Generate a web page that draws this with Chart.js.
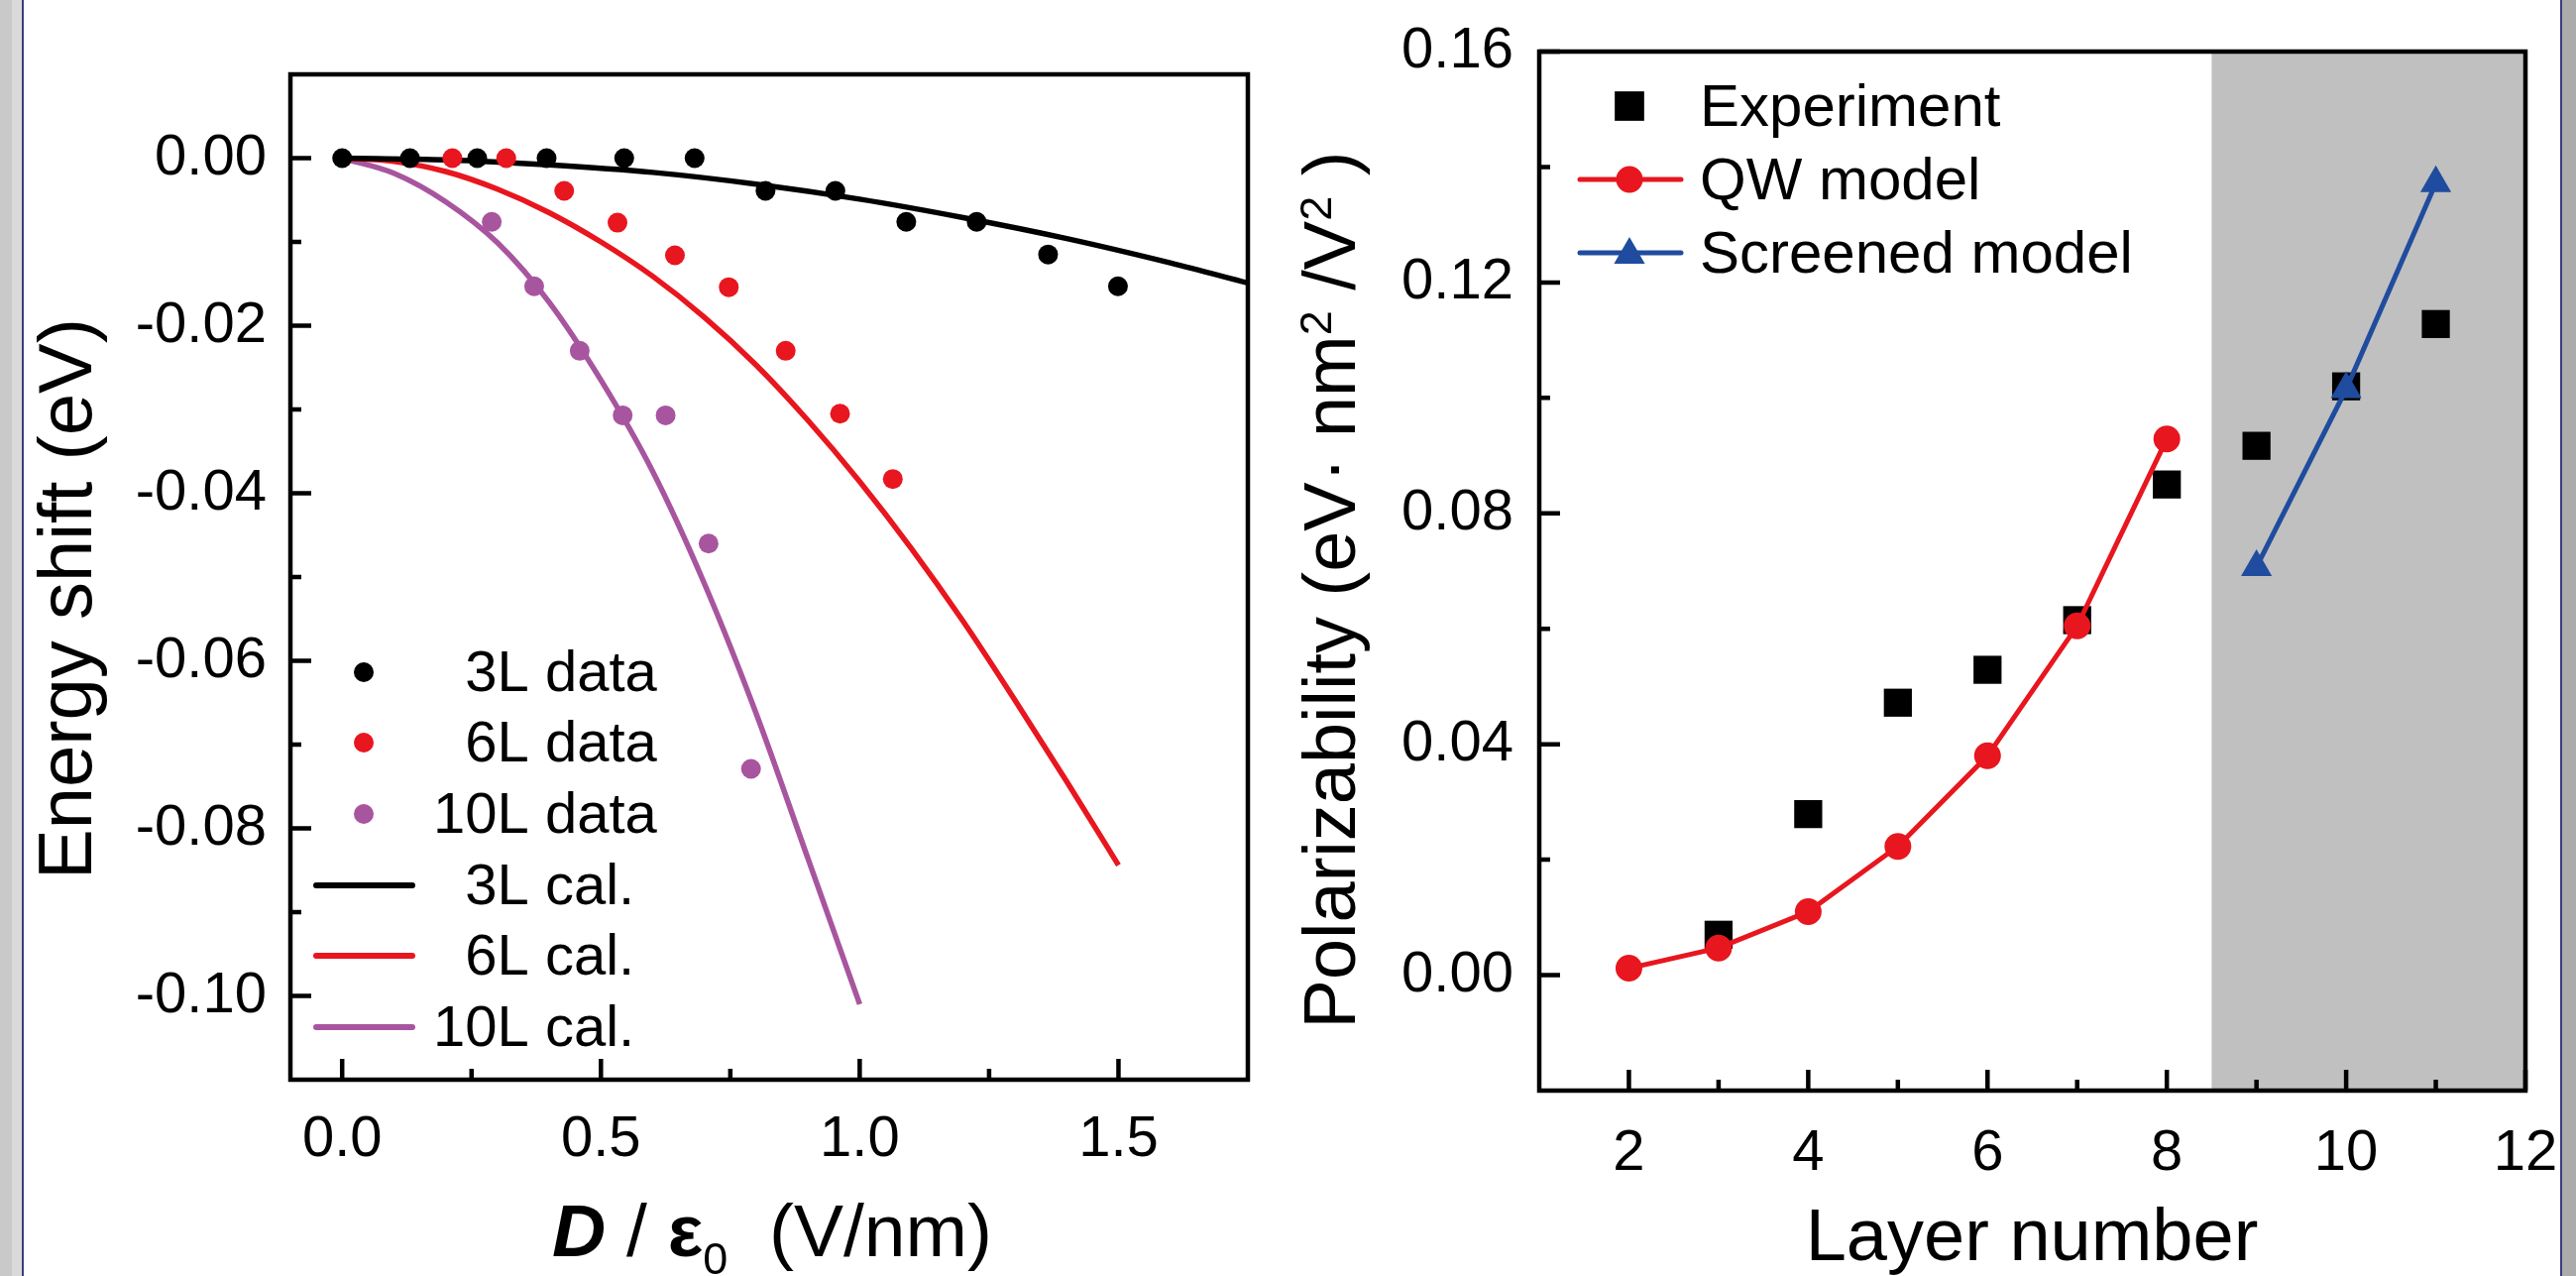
<!DOCTYPE html>
<html>
<head>
<meta charset="utf-8">
<script src="https://cdn.jsdelivr.net/npm/chart.js@4.4.1/dist/chart.umd.min.js"></script>
<style>
  html, body { margin: 0; padding: 0; background: #fff; }
  #page { position: relative; width: 2599px; height: 1287px; overflow: hidden; background: #fff; }
  #left { position: absolute; left: 0; top: 0; }
  #right { position: absolute; left: 1300px; top: 0; }
  .edge { position: absolute; top: 0; height: 1287px; }
</style>
</head>
<body>
<div id="page">
  <canvas id="left" width="1300" height="1287"></canvas>
  <canvas id="right" width="1299" height="1287"></canvas>
  <div class="edge" style="left:0;width:12px;background:#c9c9c9"></div>
  <div class="edge" style="left:12px;width:10px;background:#dadada"></div>
  <div class="edge" style="left:22px;width:2px;background:#3c3c82"></div>
  <div class="edge" style="left:2583px;width:2px;background:#3c3c82"></div>
  <div class="edge" style="left:2585px;width:14px;background:#ababab"></div>
</div>
<script>
'use strict';

var FONT = "'Liberation Sans', Arial, Helvetica, sans-serif";

// ---- left panel: energy shift vs D/eps0 ----
var data3LX = [0, 0.131, 0.261, 0.395, 0.545, 0.681, 0.818, 0.953, 1.09, 1.226, 1.364, 1.499];
var data3LY = [0, 0, 0, 0, 0, 0, -0.0039, -0.0039, -0.0076, -0.0076, -0.0115, -0.0153];
var data6LX = [0.213, 0.317, 0.429, 0.532, 0.643, 0.747, 0.857, 0.962, 1.064];
var data6LY = [0, 0, -0.0039, -0.0077, -0.0116, -0.0154, -0.0230, -0.0305, -0.0383];
var data10LX = [0.289, 0.371, 0.459, 0.542, 0.625, 0.708, 0.790];
var data10LY = [-0.0076, -0.0153, -0.0230, -0.0307, -0.0307, -0.0460, -0.0729];

// calculated curves
var cal3LX = [0, 0.2, 0.4, 0.6, 0.8, 1.0, 1.2, 1.4, 1.6, 1.75];
var cal3LY = [0, -0.0002, -0.0008, -0.0017, -0.0031, -0.0049, -0.0071, -0.0096, -0.0125, -0.0149];
var cal6LX = [0, 0.1, 0.2, 0.3, 0.4, 0.5, 0.6, 0.7, 0.8, 0.9, 1.0, 1.1, 1.2, 1.3, 1.4, 1.5];
var cal6LY = [0, -0.0004, -0.0016, -0.0037, -0.0065, -0.0100, -0.0141, -0.0190, -0.0247, -0.0313,
    -0.0386, -0.0466, -0.0553, -0.0647, -0.0744, -0.0844];
var cal10LX = [0, 0.1, 0.2, 0.3, 0.4, 0.5, 0.6, 0.7, 0.8, 0.9, 1.0];
var cal10LY = [0, -0.0018, -0.0052, -0.0101, -0.0172, -0.0265, -0.0374, -0.0508, -0.0663, -0.0836, -0.1010];

var leftXTicks = [0, 0.5, 1.0, 1.5];
var leftXMinor = [0.25, 0.75, 1.25];
var leftYTicks = [0, -0.02, -0.04, -0.06, -0.08, -0.10];
var leftYMinor = [-0.01, -0.03, -0.05, -0.07, -0.09];
var leftLabels = ['3L data', '6L data', '10L data', '3L cal.', '6L cal.', '10L cal.'];

// ---- right panel: polarizability vs layer number ----
var expX = [3, 4, 5, 6, 7, 8, 9, 10, 11];
var expY = [0.0070, 0.0279, 0.0472, 0.0529, 0.0615, 0.0850, 0.0917, 0.1020, 0.1128];
var qwX = [2, 3, 4, 5, 6, 7, 8];
var qwY = [0.0012, 0.0047, 0.0110, 0.0223, 0.0380, 0.0605, 0.0929];
var scrX = [9, 10, 11];
var scrY = [0.0707, 0.1015, 0.1372];
var shadeFrom = 8.5;

var rightXTicks = [2, 4, 6, 8, 10, 12];
var rightXMinor = [3, 5, 7, 9, 11];
var rightYTicks = [0, 0.04, 0.08, 0.12, 0.16];
var rightYMinor = [0.02, 0.06, 0.10, 0.14];
var rightLabels = ['Experiment', 'QW model', 'Screened model'];

var BLACK = '#000000';
var RED = '#e8161e';
var PURPLE = '#a8559f';
var BLUE = '#1f4c9e';

function pts(xs, ys) {
    return xs.map(function (x, i) { return { x: x, y: ys[i] }; });
}

function dots(label, xs, ys, color) {
    return {
        label: label, data: pts(xs, ys), showLine: false,
        pointRadius: 10, pointBackgroundColor: color, pointBorderWidth: 0
    };
}

function curve(label, xs, ys, color) {
    return {
        label: label, data: pts(xs, ys), showLine: true, borderColor: color,
        borderWidth: 5.5, pointRadius: 0, cubicInterpolationMode: 'monotone'
    };
}

function marker(ctx, style, x, y, r) {
    ctx.beginPath();
    if (style === 'circle') {
        ctx.arc(x, y, r, 0, Math.PI * 2);
    } else if (style === 'rect') {
        var s = r * Math.SQRT1_2;
        ctx.rect(x - s, y - s, 2 * s, 2 * s);
    } else {
        for (var k = 0; k < 3; k++) {
            var a = k * 2 * Math.PI / 3;
            ctx.lineTo(x + Math.sin(a) * r, y - Math.cos(a) * r);
        }
        ctx.closePath();
    }
    ctx.fill();
}

// rich text centred on x, baseline y
function rich(ctx, parts, x, y) {
    var total = 0;
    parts.forEach(function (p) { ctx.font = p.font; total += ctx.measureText(p.text).width; });
    var cx = x - total / 2;
    ctx.textAlign = 'left';
    ctx.textBaseline = 'alphabetic';
    parts.forEach(function (p) {
        ctx.font = p.font;
        ctx.fillText(p.text, cx, y + (p.dy || 0));
        cx += ctx.measureText(p.text).width;
    });
}

function frameAndTicks(chart, xMajor, xMinor, yMajor, yMinor) {
    var ctx = chart.ctx, a = chart.chartArea;
    var sx = chart.scales.x, sy = chart.scales.y;
    ctx.save();
    ctx.strokeStyle = '#000';
    ctx.lineWidth = 4.5;
    ctx.lineCap = 'butt';
    ctx.beginPath();
    xMajor.forEach(function (v) { var p = sx.getPixelForValue(v); ctx.moveTo(p, a.bottom); ctx.lineTo(p, a.bottom - 21); });
    xMinor.forEach(function (v) { var p = sx.getPixelForValue(v); ctx.moveTo(p, a.bottom); ctx.lineTo(p, a.bottom - 11); });
    yMajor.forEach(function (v) { var p = sy.getPixelForValue(v); ctx.moveTo(a.left, p); ctx.lineTo(a.left + 21, p); });
    yMinor.forEach(function (v) { var p = sy.getPixelForValue(v); ctx.moveTo(a.left, p); ctx.lineTo(a.left + 11, p); });
    ctx.stroke();
    ctx.lineJoin = 'miter';
    ctx.strokeRect(a.left, a.top, a.right - a.left, a.bottom - a.top);
    ctx.restore();
}

function tickFont() {
    return { family: FONT, size: 58 };
}

function fixedAxis(size, isX) {
    return function (scale) {
        if (isX) { scale.height = size; } else { scale.width = size; }
        scale.paddingTop = 0; scale.paddingBottom = 0;
        scale.paddingLeft = 0; scale.paddingRight = 0;
    };
}

function setTicks(values) {
    return function (scale) {
        scale.ticks = values.map(function (v) { return { value: v }; });
    };
}

// ---------- left chart ----------
var leftDecor = {
    id: 'leftDecor',
    afterDraw: function (chart) {
        var ctx = chart.ctx;
        frameAndTicks(chart, leftXTicks, leftXMinor, leftYTicks, leftYMinor);
        ctx.save();
        ctx.fillStyle = '#000';

        // legend
        var rows = [678, 749, 821, 893, 964, 1036];
        var colors = [BLACK, RED, PURPLE, BLACK, RED, PURPLE];
        ctx.font = '58px ' + FONT;
        var digit = ctx.measureText('0').width;
        rows.forEach(function (y, i) {
            ctx.fillStyle = colors[i];
            ctx.strokeStyle = colors[i];
            if (i < 3) {
                marker(ctx, 'circle', 367, y, 10);
            } else {
                ctx.lineWidth = 6;
                ctx.lineCap = 'round';
                ctx.beginPath();
                ctx.moveTo(319, y);
                ctx.lineTo(416, y);
                ctx.stroke();
            }
            ctx.fillStyle = '#000';
            ctx.textAlign = 'left';
            ctx.textBaseline = 'alphabetic';
            var lab = leftLabels[i];
            var x0 = lab.indexOf('10') === 0 ? 437 : 437 + digit;
            ctx.fillText(lab, x0, y + 19);
        });

        // axis titles
        rich(ctx, [
            { text: 'D', font: 'italic bold 75px ' + FONT },
            { text: ' / ', font: '75px ' + FONT },
            { text: '\u03b5', font: 'bold 75px ' + FONT },
            { text: '0', font: '45px ' + FONT, dy: 18 },
            { text: '  (V/nm)', font: '75px ' + FONT }
        ], 779, 1267);

        ctx.translate(92, 604);
        ctx.rotate(-Math.PI / 2);
        rich(ctx, [{ text: 'Energy shift (eV)', font: '76px ' + FONT }], 0, 0);
        ctx.restore();
    }
};

new Chart(document.getElementById('left'), {
    type: 'line',
    data: {
        datasets: [
            dots('3L data', data3LX, data3LY, BLACK),
            dots('6L data', data6LX, data6LY, RED),
            dots('10L data', data10LX, data10LY, PURPLE),
            curve('3L cal.', cal3LX, cal3LY, BLACK),
            curve('6L cal.', cal6LX, cal6LY, RED),
            curve('10L cal.', cal10LX, cal10LY, PURPLE)
        ]
    },
    options: {
        responsive: false,
        animation: false,
        devicePixelRatio: 1,
        events: [],
        layout: { padding: { top: 75, right: 41, left: 0, bottom: 0 } },
        plugins: { legend: { display: false }, tooltip: { enabled: false } },
        scales: {
            x: {
                type: 'linear', min: -0.1, max: 1.75,
                afterBuildTicks: setTicks(leftXTicks),
                afterFit: fixedAxis(198, true),
                grid: { display: false, drawTicks: false },
                border: { display: false },
                ticks: {
                    font: tickFont(), color: '#000', padding: 26, maxRotation: 0, autoSkip: false,
                    callback: function (v) { return Number(v).toFixed(1); }
                }
            },
            y: {
                type: 'linear', min: -0.11, max: 0.01,
                afterBuildTicks: setTicks(leftYTicks),
                afterFit: fixedAxis(293, false),
                grid: { display: false, drawTicks: false },
                border: { display: false },
                ticks: {
                    font: tickFont(), color: '#000', padding: 24, autoSkip: false,
                    callback: function (v) { return Number(v).toFixed(2); }
                }
            }
        }
    },
    plugins: [leftDecor]
});

// ---------- right chart ----------
var rightDecor = {
    id: 'rightDecor',
    beforeDatasetsDraw: function (chart) {
        var ctx = chart.ctx, a = chart.chartArea;
        var x0 = chart.scales.x.getPixelForValue(shadeFrom);
        ctx.save();
        ctx.fillStyle = '#c0c0c0';
        ctx.fillRect(x0, a.top, a.right - x0, a.bottom - a.top);
        ctx.restore();
    },
    afterDraw: function (chart) {
        var ctx = chart.ctx;
        frameAndTicks(chart, rightXTicks, rightXMinor, rightYTicks, rightYMinor);
        ctx.save();

        // legend
        var rows = [107, 181, 255];
        var styles = ['rect', 'circle', 'triangle'];
        var radii = [21, 13.5, 18];
        var colors = [BLACK, RED, BLUE];
        rows.forEach(function (y, i) {
            ctx.strokeStyle = colors[i];
            ctx.fillStyle = colors[i];
            if (i > 0) {
                ctx.lineWidth = 5;
                ctx.lineCap = 'round';
                ctx.beginPath();
                ctx.moveTo(294, y);
                ctx.lineTo(396, y);
                ctx.stroke();
            }
            marker(ctx, styles[i], 344, i === 2 ? y + 2 : y, radii[i]);
            ctx.fillStyle = '#000';
            ctx.font = '60px ' + FONT;
            ctx.textAlign = 'left';
            ctx.textBaseline = 'alphabetic';
            ctx.fillText(rightLabels[i], 415, y + 20);
        });

        rich(ctx, [{ text: 'Layer number', font: '74px ' + FONT }], 750, 1271);

        ctx.translate(67, 595);
        ctx.rotate(-Math.PI / 2);
        rich(ctx, [
            { text: 'Polarizability (eV\u00b7 nm', font: '74px ' + FONT },
            { text: '2', font: '45px ' + FONT, dy: -24 },
            { text: ' /V', font: '74px ' + FONT },
            { text: '2', font: '45px ' + FONT, dy: -24 },
            { text: ' )', font: '74px ' + FONT }
        ], 0, 0);
        ctx.restore();
    }
};

new Chart(document.getElementById('right'), {
    type: 'line',
    data: {
        datasets: [
            {
                label: 'QW model', data: pts(qwX, qwY), showLine: true,
                borderColor: RED, borderWidth: 5, tension: 0,
                pointRadius: 13.5, pointBackgroundColor: RED, pointBorderWidth: 0
            },
            {
                label: 'Screened model', data: pts(scrX, scrY), showLine: true,
                borderColor: BLUE, borderWidth: 5, tension: 0, pointStyle: 'triangle',
                pointRadius: 18, pointBackgroundColor: BLUE, pointBorderWidth: 0
            },
            {
                label: 'Experiment', data: pts(expX, expY), showLine: false, pointStyle: 'rect',
                pointRadius: 20, pointBackgroundColor: BLACK, pointBorderWidth: 0
            }
        ]
    },
    options: {
        responsive: false,
        animation: false,
        devicePixelRatio: 1,
        events: [],
        layout: { padding: { top: 52, right: 51, left: 0, bottom: 0 } },
        plugins: { legend: { display: false }, tooltip: { enabled: false } },
        scales: {
            x: {
                type: 'linear', min: 1, max: 12,
                afterBuildTicks: setTicks(rightXTicks),
                afterFit: fixedAxis(187, true),
                grid: { display: false, drawTicks: false },
                border: { display: false },
                ticks: {
                    font: tickFont(), color: '#000', padding: 29, maxRotation: 0, autoSkip: false,
                    callback: function (v) { return String(v); }
                }
            },
            y: {
                type: 'linear', min: -0.02, max: 0.16,
                afterBuildTicks: setTicks(rightYTicks),
                afterFit: fixedAxis(253, false),
                grid: { display: false, drawTicks: false },
                border: { display: false },
                ticks: {
                    font: tickFont(), color: '#000', padding: 26, autoSkip: false,
                    callback: function (v) { return Number(v).toFixed(2); }
                }
            }
        }
    },
    plugins: [rightDecor]
});
</script>
</body>
</html>
